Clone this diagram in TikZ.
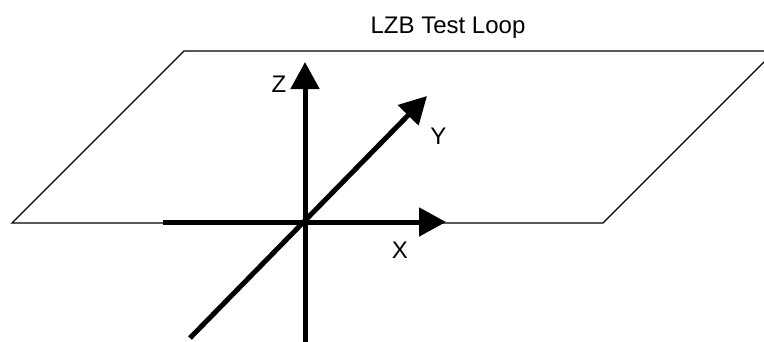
\documentclass[tikz,border=0pt]{standalone}
\usepackage{fontspec}
\setmainfont{Liberation Sans}
\usetikzlibrary{arrows.meta}
\begin{document}
\begin{tikzpicture}[x=1pt,y=-1pt,
  axis/.style={line width=5pt,-{Triangle[length=27pt,width=28pt]}},
  plane/.style={line width=1.3pt,line join=miter},
  lbl/.style={font=\fontsize{24}{28}\selectfont,inner sep=0pt,anchor=base}]
\useasboundingbox (0,0) rectangle (764,341);
\clip (0,0) rectangle (764,341);
\coordinate (p1) at (12,223);
\coordinate (p2) at (603,223);
\coordinate (p3) at (775,51);
\coordinate (p4) at (184,51);
\draw[plane] (p1) -- (p2) -- (p3) -- (p4) -- cycle;
\node[lbl] (title) at (448,33) {LZB Test Loop};
\coordinate (o) at (305,222);
\coordinate (xs) at (163,222);
\coordinate (xe) at (446,222);
\coordinate (zs) at (305,345);
\coordinate (ze) at (305,62);
\coordinate (ys) at (190,338);
\coordinate (ye) at (427,96);
\draw[axis] (xs) -- (xe);
\draw[axis] (zs) -- (ze);
\draw[axis] (ys) -- (ye);
\node[lbl] (zl) at (279,92) {Z};
\node[lbl] (yl) at (438.5,144) {Y};
\node[lbl] (xl) at (400,258) {X};
\end{tikzpicture}
\end{document}
